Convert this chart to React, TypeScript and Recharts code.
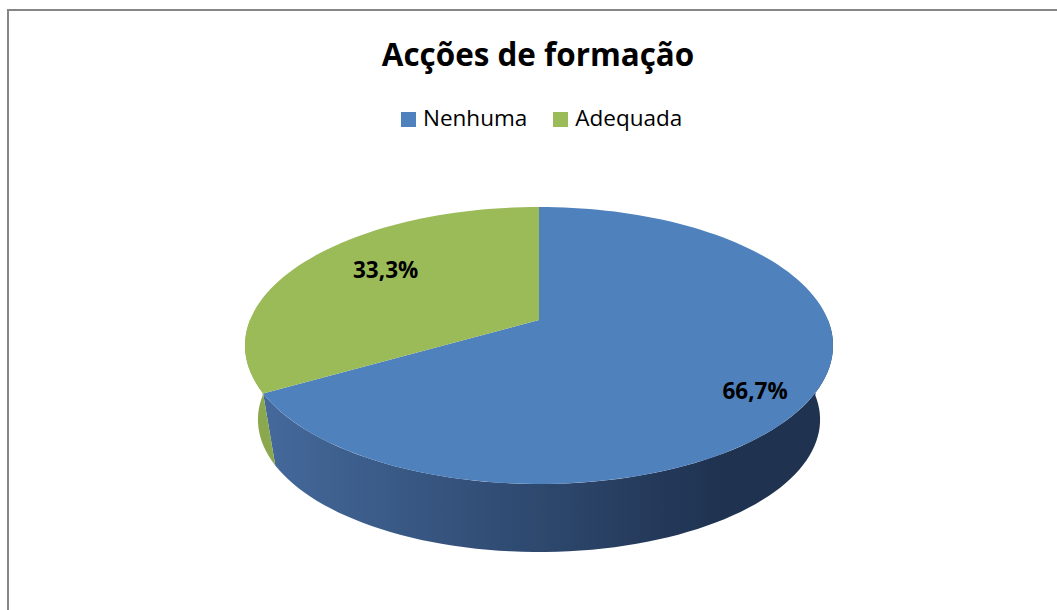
import { PieChart, Pie, Legend } from 'recharts'

const title = 'Acções de formação'
const categories = ['Nenhuma', 'Adequada']
const shares = [66.7, 33.3]
const faceColors = ['#4f81bd', '#9bbb59']
const wallColors = [
  ['#44699b', '#1f3250'],
  ['#8ca84f', '#8ca84f'],
]

const data = categories.map((name, i) => ({
  name,
  value: shares[i],
  fill: faceColors[i],
  wall: wallColors[i],
}))

const FONT = '"Open Sans", "Noto Sans", sans-serif'

// fake-3D projection of the disc: tilted ellipse with a bit of perspective
const TILT = 0.463 // minor / major axis of the top face
const PERSP = 0.184 // front gets bigger, back smaller
const DEPTH_SCALE = 0.956 // bottom face shrunk towards the vanishing point
const VP_DIST = 5.917 // vanishing point below the centre, in radii
const RAD = Math.PI / 180

function onTop(cx: number, cy: number, r: number, deg: number, f = 1, tilt = TILT) {
  const u = Math.cos(deg * RAD) * f
  const v = -Math.sin(deg * RAD) * f
  const w = 1 - PERSP * v
  return [cx + (r * u) / w, cy + (r * tilt * v) / w]
}

function onBottom(cx: number, cy: number, r: number, deg: number) {
  const [x, y] = onTop(cx, cy, r, deg)
  const vy = cy + VP_DIST * r
  return [cx + (x - cx) * DEPTH_SCALE, vy + (y - vy) * DEPTH_SCALE]
}

function sample(a: number, b: number, fn: (d: number) => number[]) {
  const n = Math.max(2, Math.ceil(Math.abs(b - a) / 2))
  const pts: number[][] = []
  for (let i = 0; i <= n; i++) pts.push(fn(a + ((b - a) * i) / n))
  return pts
}

const toPath = (pts: number[][]) =>
  pts.map((p, i) => `${i ? 'L' : 'M'}${p[0].toFixed(2)},${p[1].toFixed(2)}`).join('') + 'Z'

function Slice3D(props: any) {
  const { cx, cy, outerRadius: r, startAngle, endAngle, fill, payload } = props
  const wall = payload?.wall ?? [fill, fill]
  const gid = `wall-${String(payload?.name ?? fill).replace(/\W/g, '')}`
  const lo = Math.min(startAngle, endAngle)
  const hi = Math.max(startAngle, endAngle)

  // only the front half of the rim is visible
  const walls: number[][] = []
  for (const k of [-360, 0, 360]) {
    const a = Math.max(lo, -180 + k)
    const b = Math.min(hi, k)
    if (b > a) walls.push([a, b])
  }

  const face = [[cx, cy], ...sample(startAngle, endAngle, (d) => onTop(cx, cy, r, d))]

  return (
    <g>
      <defs>
        <linearGradient id={gid} gradientUnits="userSpaceOnUse" x1={cx - 0.95 * r} y1={0} x2={cx + 0.63 * r} y2={0}>
          <stop offset="0" stopColor={wall[0]} />
          <stop offset="1" stopColor={wall[1]} />
        </linearGradient>
      </defs>
      {walls.map(([a, b], i) => {
        const topEdge = sample(a, b, (d) => onTop(cx, cy, r, d))
        const botEdge = sample(a, b, (d) => onBottom(cx, cy, r, d)).reverse()
        return <path key={i} d={toPath([...topEdge, ...botEdge])} fill={`url(#${gid})`} stroke="none" />
      })}
      <path d={toPath(face)} fill={fill} stroke="none" />
    </g>
  )
}

function SliceLabel(props: any) {
  const { cx, cy, midAngle, outerRadius, percent, value } = props
  const [x, y] = onTop(cx, cy, outerRadius, midAngle, 0.5 + 0.45 * percent, TILT * 1.22)
  return (
    <text
      x={x}
      y={y}
      textAnchor="middle"
      dominantBaseline="central"
      fontFamily={FONT}
      fontWeight={700}
      fontSize={22.5}
      fill="#000"
    >
      {`${Number(value).toFixed(1).replace('.', ',')}%`}
    </text>
  )
}

function LegendRow() {
  return (
    <div style={{ display: 'flex', alignItems: 'center', fontFamily: FONT, fontSize: 22.5, color: '#000' }}>
      {categories.map((name, i) => (
        <div key={name} style={{ display: 'flex', alignItems: 'center', marginRight: 26 }}>
          <span style={{ width: 15, height: 15, marginRight: 7, marginTop: 2, background: faceColors[i] }} />
          <span style={{ lineHeight: 1 }}>{name}</span>
        </div>
      ))}
    </div>
  )
}

export default function App() {
  return (
    <div style={{ position: 'fixed', left: 0, top: 0, width: 1057, height: 610, background: '#fff', overflow: 'hidden' }}>
      <div
        style={{
          position: 'absolute',
          left: 7,
          top: 9,
          width: 1070,
          height: 620,
          borderTop: '2px solid #868686',
          borderLeft: '2px solid #868686',
        }}
      />
      <div
        style={{
          position: 'absolute',
          left: 0,
          top: 38,
          width: 1076,
          textAlign: 'center',
          fontFamily: FONT,
          fontWeight: 700,
          fontSize: 31.4,
          lineHeight: 1,
          color: '#000',
        }}
      >
        {title}
      </div>
      <PieChart
        width={1057}
        height={610}
        margin={{ top: 0, right: 0, bottom: 0, left: 0 }}
        style={{ position: 'absolute', left: 0, top: 0 }}
      >
        <Legend content={<LegendRow />} wrapperStyle={{ left: 401, top: 107, width: 500 }} />
        <Pie
          data={data}
          dataKey="value"
          nameKey="name"
          cx={539}
          cy={320}
          outerRadius={289}
          startAngle={90}
          endAngle={-270}
          shape={<Slice3D />}
          label={<SliceLabel />}
          labelLine={false}
          isAnimationActive={false}
        />
      </PieChart>
    </div>
  )
}
